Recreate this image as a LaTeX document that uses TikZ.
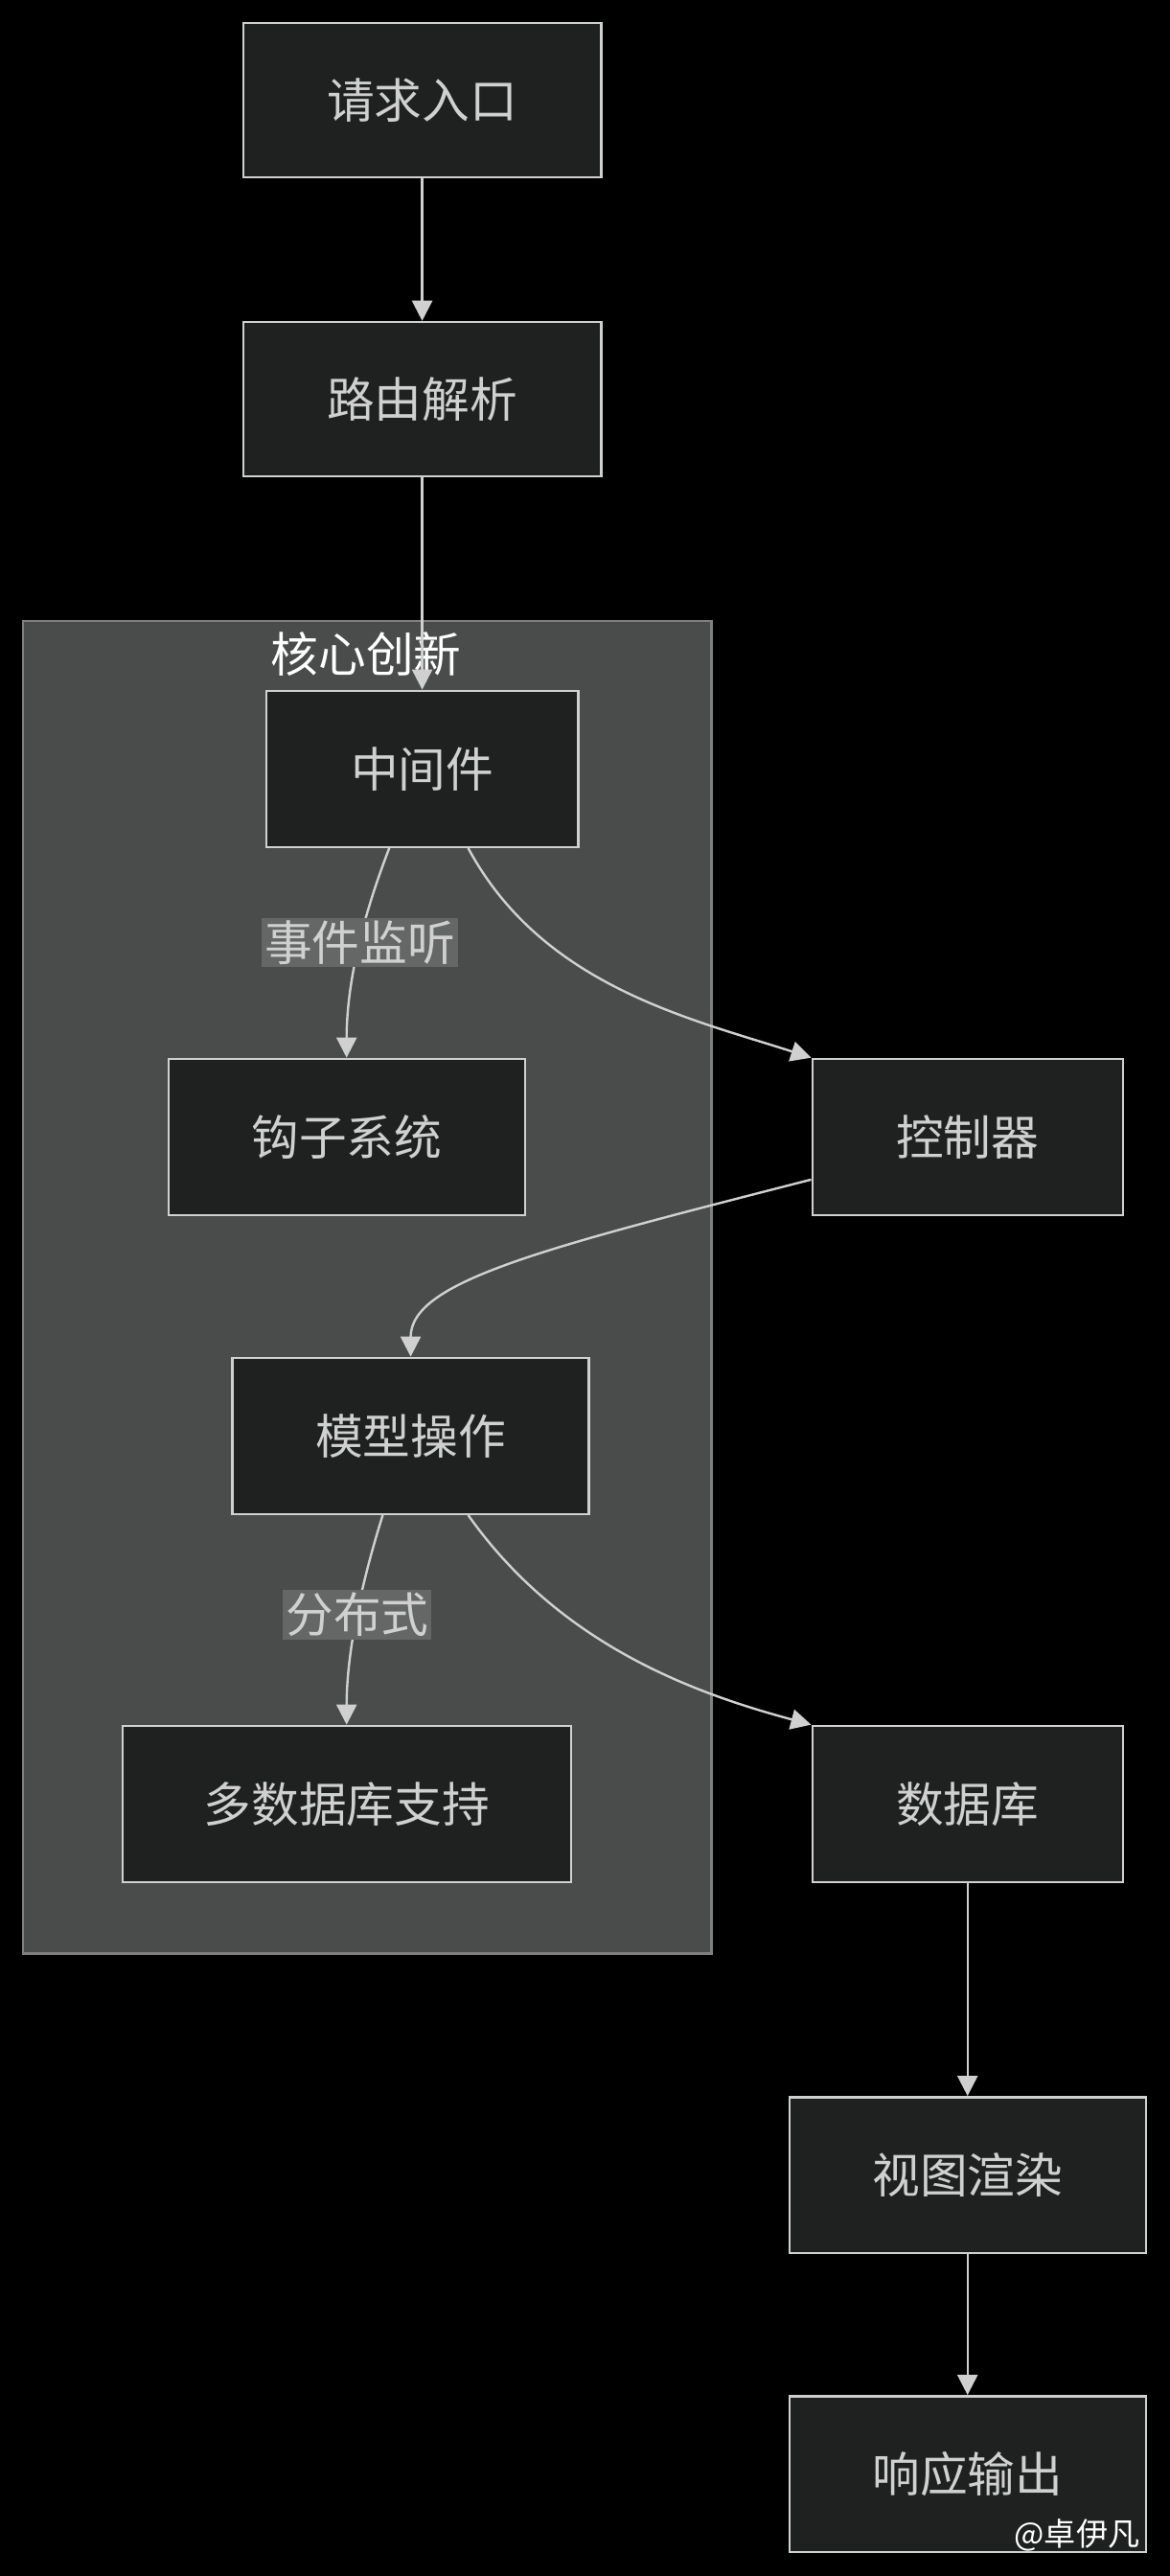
\documentclass[tikz,border=0pt]{standalone}
\usepackage{fontspec}
\setmainfont{Noto Sans CJK SC}
\usetikzlibrary{arrows.meta}
\definecolor{bgc}{HTML}{000000}
\definecolor{boxc}{HTML}{1F2020}
\definecolor{clusc}{HTML}{4A4B4B}
\definecolor{linec}{HTML}{D0D0D0}
\begin{document}
\begin{tikzpicture}[x=0.02cm,y=-0.02cm,
    box/.style={draw=linec,fill=boxc,line width=0.8pt,text=linec,font=\fontsize{16.5}{19}\selectfont,inner sep=0pt},
    edge/.style={draw=linec,line width=0.8pt,-{Triangle[length=7pt,width=7pt]}},
    elabel/.style={fill=clusc!85!white,text=linec,font=\fontsize{16.5}{19}\selectfont,inner sep=1pt}]
        \fill [bgc] (0,0) rectangle (712,1568);
        \draw [fill=clusc,draw=gray,line width=0.8pt] (14,378) rectangle (433,1189);
        \node (title) [text=white,font=\fontsize{16.5}{19}\selectfont] at (223,398) {核心创新};
        % boxes
        \node (entry) [box,minimum width=218*0.02cm,minimum height=94*0.02cm] at (257,61) {请求入口};
        \node (route) [box,minimum width=218*0.02cm,minimum height=94*0.02cm] at (257,243) {路由解析};
        \node (mid) [box,minimum width=190*0.02cm,minimum height=95*0.02cm] at (257,468) {中间件};
        \node (hook) [box,minimum width=217*0.02cm,minimum height=95*0.02cm] at (211,692) {钩子系统};
        \node (ctrl) [box,minimum width=189*0.02cm,minimum height=95*0.02cm] at (589,692) {控制器};
        \node (model) [box,minimum width=217*0.02cm,minimum height=95*0.02cm] at (250,874) {模型操作};
        \node (multi) [box,minimum width=273*0.02cm,minimum height=95*0.02cm] at (211,1098) {多数据库支持};
        \node (db) [box,minimum width=189*0.02cm,minimum height=95*0.02cm] at (589,1098) {数据库};
        \node (view) [box,minimum width=217*0.02cm,minimum height=95*0.02cm] at (589,1324) {视图渲染};
        \node (resp) [box,minimum width=217*0.02cm,minimum height=95*0.02cm] at (589,1506) {响应输出};
        % edges
        \draw [edge] (entry) -- (route);
        \draw [edge] (route) -- (mid);
        \draw [edge] (mid.south) ++(-20,0) coordinate (m1) (m1) .. controls (220,560) and (211,600) .. node[elabel,pos=0.45] {事件监听} (hook.north);
        \draw [edge] (mid.south) ++(28,0) coordinate (m2) (m2) .. controls (330,600) and (420,620) .. (ctrl.north west);
        \draw [edge] (ctrl.west) ++(0,26) coordinate (c1) (c1) .. controls (330,760) and (250,780) .. (model.north);
        \draw [edge] (model.south) ++(-17,0) coordinate (m3) (m3) .. controls (218,970) and (211,1010) .. node[elabel,pos=0.45] {分布式} (multi.north);
        \draw [edge] (model.south) ++(35,0) coordinate (m4) (m4) .. controls (340,1000) and (420,1030) .. (db.north west);
        \draw [edge] (db) -- (view);
        \draw [edge] (view) -- (resp);
        \node (mark) [text=white,font=\fontsize{11}{13}\selectfont,anchor=east] at (700,1543) {@卓伊凡};
\end{tikzpicture}
\end{document}
